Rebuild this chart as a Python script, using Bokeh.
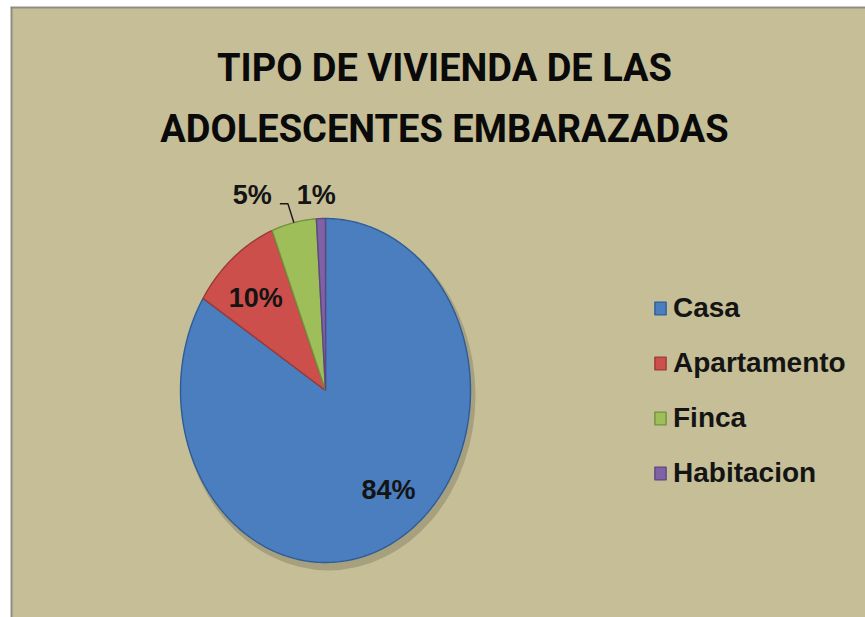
import numpy as np
from bokeh.plotting import figure
from bokeh.models import ColumnDataSource, Legend, LegendItem, Range1d, Span
from bokeh.core.properties import value
from bokeh.embed import file_html
from bokeh.resources import INLINE

# ---- data ----
categories = ["Casa", "Apartamento", "Finca", "Habitacion"]
percentages = [84, 10, 5, 1]
pct_labels = ["84%", "10%", "5%", "1%"]
title_lines = ["TIPO DE VIVIENDA DE LAS", "ADOLESCENTES EMBARAZADAS"]

# ---- style ----
colors = ["#4A7EBF", "#CC4F4B", "#9DBE58", "#7F62A6"]
edge_colors = ["#2F5C96", "#9A3A37", "#74913F", "#5D4682"]
BG = "#C5BE97"
W, H = 865, 617
LEFT, TOP = 10, 6
cx, cy, rx, ry = 325, 227, 145, 172

p = figure(width=W, height=H, x_range=Range1d(LEFT, W), y_range=Range1d(0, H - TOP),
           output_backend="svg", toolbar_location=None,
           min_border_left=LEFT, min_border_top=TOP, min_border_right=0, min_border_bottom=0,
           x_axis_type=None, y_axis_type=None)
p.grid.visible = False
p.background_fill_color = BG
p.border_fill_color = "white"
p.outline_line_color = None

# grey edge on the top and left of the chart area
p.add_layout(Span(location=LEFT + 1, dimension="height", line_color="#8C8C8C", line_width=2))
p.add_layout(Span(location=H - TOP - 1, dimension="width", line_color="#8C8C8C", line_width=2))

# shadow under the pie
p.ellipse(x=[cx + 3], y=[cy - 5], width=[2 * rx + 4], height=[2 * ry + 6],
          fill_color="#6f6a50", fill_alpha=0.35, line_color=None)

# pie slices (ellipse-shaped, clockwise from 12 o'clock)
fr = np.array(percentages, dtype=float) / sum(percentages)
ends = np.cumsum(fr)
starts = ends - fr
xs, ys = [], []
for s, e in zip(starts, ends):
    n = max(int((e - s) * 360), 2) + 1
    t = np.linspace(s, e, n)
    a = np.pi / 2 - 2 * np.pi * t
    xs.append([cx] + list(cx + rx * np.cos(a)) + [cx])
    ys.append([cy] + list(cy + ry * np.sin(a)) + [cy])

src = ColumnDataSource(dict(xs=xs, ys=ys, fill=colors, edge=edge_colors, cat=categories))
r = p.patches("xs", "ys", source=src, fill_color="fill", line_color="edge", line_width=1.4)

# data labels
mid = np.pi / 2 - 2 * np.pi * (starts + ends) / 2
radial = [0.70, 0.70, 1.14, 1.14]
shift_x = [14, -5, 0, -4]
shift_y = [6, 0, 0, 0]
lx, ly, align = [], [], []
for i in range(len(categories)):
    lx.append(cx + rx * radial[i] * np.cos(mid[i]) + shift_x[i])
    ly.append(cy + ry * radial[i] * np.sin(mid[i]) + shift_y[i])
    align.append("center")
# leader line for the Finca label
ex = cx + rx * np.cos(mid[2])
ey = cy + ry * np.sin(mid[2])
p.line(x=[ex, ex - 6, ex - 14], y=[ey, ey + 19, ey + 19], line_color="#1a1a1a", line_width=1.5)
lx[2] = ex - 22
ly[2] = ey + 28
align[2] = "right"

lsrc = ColumnDataSource(dict(x=lx, y=ly, t=pct_labels, align=align))
p.text(x="x", y="y", text="t", source=lsrc, text_align="align", text_baseline="middle",
       text_font=value("Liberation Sans"), text_font_style="bold",
       text_font_size="27px", text_color="#141414")

# title
tsrc = ColumnDataSource(dict(x=[444, 444], y=[H - 67, H - 128], t=title_lines))
p.text(x="x", y="y", text="t", source=tsrc, text_align="center", text_baseline="middle",
       text_font=value("Roboto"), text_font_style="bold",
       text_font_size="38px", text_color="#0a0a0a")

# legend
items = [LegendItem(label=c, renderers=[r], index=i) for i, c in enumerate(categories)]
legend = Legend(items=items, location=(643, 128), label_text_font="Liberation Sans",
                label_text_font_size="28px", label_text_font_style="bold",
                label_text_color="#141414",
                glyph_width=14, glyph_height=16, label_height=32, spacing=23,
                label_standoff=6, padding=0, margin=0,
                border_line_color=None, background_fill_alpha=0)
p.add_layout(legend)

open("out.html", "w").write(file_html(p, INLINE))
